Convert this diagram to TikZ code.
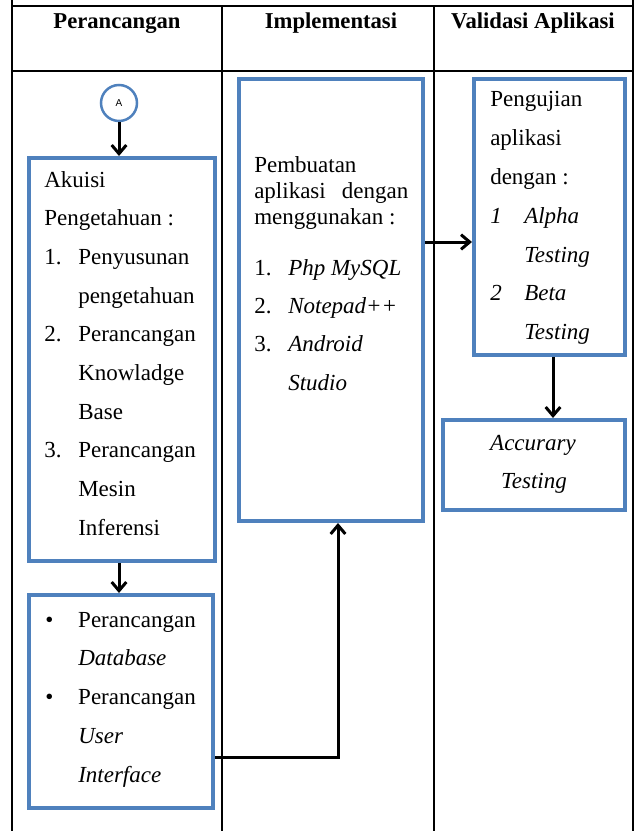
\documentclass[tikz,border=0pt]{standalone}
\usepackage{fontspec}
\setmainfont{Liberation Serif}
\newfontfamily\labelsans{Liberation Sans}
\usetikzlibrary{arrows.meta}

% one drawing unit = one pixel of the layout grid
\def\pxu{0.75pt}
\newdimen\pxd \pxd=0.75pt
\definecolor{boxblue}{HTML}{4F81BD}

% hanging list entry: marker column, then the item text
\newcommand{\lstitem}[2]{\makebox[34\pxd][l]{#1}{#2}}
% a column of lines with fixed baseline distance
\newcommand{\linestack}[3]{\vtop{\hsize=#1\pxd\baselineskip=#2\pxd\lineskiplimit=-100pt\parindent=0pt\raggedright #3}}

\begin{document}
\begin{tikzpicture}[x=0.75pt,y=-0.75pt,
  bodyfont/.style={font=\fontsize{17.25pt}{20pt}\selectfont},
  grid/.style={line width=1.6*\pxu, draw=black},
  bluebox/.style={draw=boxblue, line width=4*\pxu, rectangle, inner sep=0pt},
  txt/.style={bodyfont, inner sep=0pt, anchor=base west},
  hd/.style={font=\fontsize{17pt}{20pt}\selectfont\bfseries, inner sep=0pt, anchor=base},
  flow/.style={line width=3*\pxu, -{Straight Barb[length=6.5pt,width=11pt]}}
]
\useasboundingbox (0,0) rectangle (639,831);

% table frame
\draw[grid] (12,0) -- (12,831);
\draw[grid] (633,0) -- (633,831);
\draw[grid] (222,6) -- (222,831);
\draw[grid] (434,6) -- (434,831);
\draw[grid] (12,6) -- (633,6);
\draw[grid] (12,71) -- (633,71);

% column headings
\node[hd] (h1) at (117,29) {Perancangan};
\node[hd] (h2) at (331,29) {Implementasi};
\node[hd] (h3) at (533,29) {Validasi Aplikasi};

% connector circle
\node[circle, draw=boxblue, line width=2.5*\pxu, minimum size=36*\pxu, inner sep=0pt,
      font=\labelsans\fontsize{7.5pt}{8pt}\selectfont] (circA) at (119,103) {A};

% boxes
\node[bluebox, minimum width=186*\pxu, minimum height=403*\pxu] (akuisi) at (122,359.5) {};
\node[bluebox, minimum width=184*\pxu, minimum height=213*\pxu] (desain) at (121,701.5) {};
\node[bluebox, minimum width=184*\pxu, minimum height=442*\pxu] (impl) at (331,300) {};
\node[bluebox, minimum width=151*\pxu, minimum height=276*\pxu] (uji) at (549.5,217) {};
\node[bluebox, minimum width=182*\pxu, minimum height=90*\pxu] (akurasi) at (534,465) {};

% box texts
\node[txt] (akuisiText) at (44,187) {\linestack{170}{38.7}{%
  Akuisi\par
  Pengetahuan :\par
  \lstitem{1.}{Penyusunan}\par
  \lstitem{}{pengetahuan}\par
  \lstitem{2.}{Perancangan}\par
  \lstitem{}{Knowladge}\par
  \lstitem{}{Base}\par
  \lstitem{3.}{Perancangan}\par
  \lstitem{}{Mesin}\par
  \lstitem{}{Inferensi}}};

\node[txt] (desainText) at (44,627) {\linestack{170}{38.8}{%
  \lstitem{\hspace{1\pxd}\textbullet}{Perancangan}\par
  \lstitem{}{\itshape Database}\par
  \lstitem{\hspace{1\pxd}\textbullet}{Perancangan}\par
  \lstitem{}{\itshape User}\par
  \lstitem{}{\itshape Interface}}};

\node[txt] (implIntro) at (254,172) {\linestack{154}{26}{%
  Pembuatan\par
  \hbox to 154\pxd{aplikasi\hfill dengan}\par
  menggunakan :}};

\node[txt] (implList) at (254,275) {\linestack{160}{38.4}{%
  \lstitem{1.}{\itshape Php MySQL}\par
  \lstitem{2.}{\itshape Notepad++}\par
  \lstitem{3.}{\itshape Android}\par
  \lstitem{}{\itshape Studio}}};

\node[txt] (ujiText) at (490,107) {\linestack{130}{38.8}{%
  Pengujian\par
  aplikasi\par
  dengan :\par
  {\itshape\lstitem{1}{Alpha}}\par
  {\itshape\lstitem{}{Testing}}\par
  {\itshape\lstitem{2}{Beta}}\par
  {\itshape\lstitem{}{Testing}}}};

\node[txt, anchor=base, align=center] (akurasiA) at (533,450) {\itshape Accurary};
\node[txt, anchor=base, align=center] (akurasiB) at (534,488) {\itshape Testing};

% flow connectors
\coordinate (rowA) at (0,242);
\coordinate (colB) at (553,0);
\coordinate (bend) at (338,757);

\draw[flow] (circA.south) -- (circA.south |- akuisi.north);
\draw[flow] (circA.south |- akuisi.south) -- (circA.south |- desain.north);
\draw[flow] (impl.east |- rowA) -- (uji.west |- rowA);
\draw[flow] (colB |- uji.south) -- (colB |- akurasi.north);
\draw[flow] (desain.east |- bend) -- (bend) -- (bend |- impl.south);
\end{tikzpicture}
\end{document}
